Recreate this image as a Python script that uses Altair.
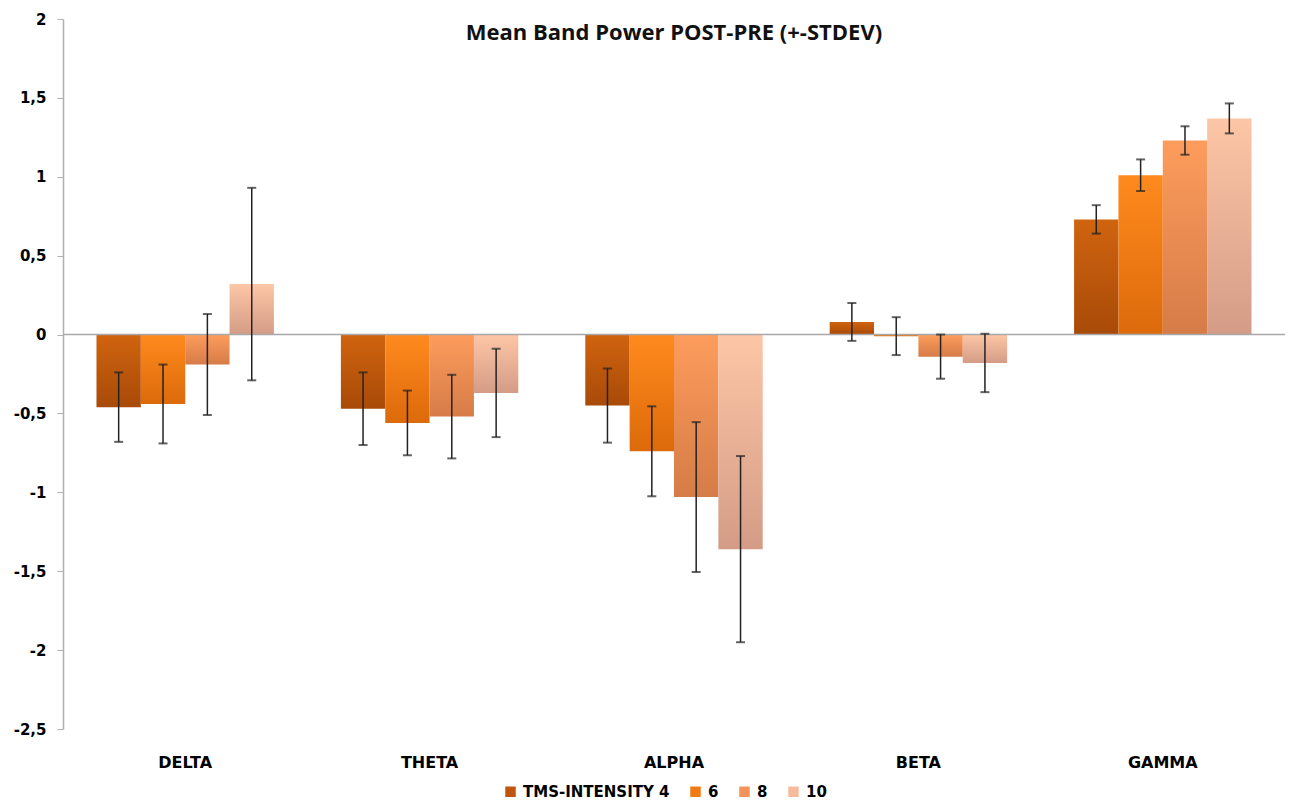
import altair as alt
import pandas as pd

bands = ["DELTA", "THETA", "ALPHA", "BETA", "GAMMA"]
series = ["TMS-INTENSITY 4", "6", "8", "10"]

# mean values per series (order of bands)
mean_4 = [-0.46, -0.47, -0.45, 0.08, 0.73]
mean_6 = [-0.44, -0.56, -0.74, -0.01, 1.01]
mean_8 = [-0.19, -0.52, -1.03, -0.14, 1.23]
mean_10 = [0.32, -0.37, -1.36, -0.18, 1.37]

sd_4 = [0.22, 0.23, 0.235, 0.12, 0.09]
sd_6 = [0.25, 0.205, 0.285, 0.12, 0.10]
sd_8 = [0.32, 0.265, 0.475, 0.14, 0.09]
sd_10 = [0.61, 0.28, 0.59, 0.185, 0.095]

y_ticks = [-2.5, -2, -1.5, -1, -0.5, 0, 0.5, 1, 1.5, 2]

legend_colors = ["#c0560e", "#f27a12", "#f2935a", "#f6bb9c"]
grad_top = ["#d0640f", "#ff8a1e", "#fd9c5c", "#fdc6a6"]
grad_bottom = ["#a84a08", "#dc6a0a", "#d67c48", "#d49c86"]

rows = []
for s, means, sds in zip(series, [mean_4, mean_6, mean_8, mean_10], [sd_4, sd_6, sd_8, sd_10]):
    for b, m, d in zip(bands, means, sds):
        rows.append({"band": b, "series": s, "value": m, "lo": m - d, "hi": m + d})
df = pd.DataFrame(rows)

x_enc = alt.X(
    "band:N",
    sort=bands,
    scale=alt.Scale(paddingInner=0.274, paddingOuter=0.137),
    axis=alt.Axis(
        title=None, domain=False, ticks=False, labelAngle=0, labelPadding=25,
        labelFont="DejaVu Sans", labelFontWeight="bold", labelFontSize=16, labelColor="#000000",
    ),
)
xo_enc = alt.XOffset("series:N", sort=series, scale=alt.Scale(domain=series, paddingInner=0, paddingOuter=0))
y_scale = alt.Scale(domain=[-2.5, 2], nice=False, zero=False)
y_enc = alt.Y(
    "value:Q",
    scale=y_scale,
    axis=alt.Axis(
        title=None, values=y_ticks, grid=False,
        domainColor="#b0b0b0", domainWidth=1.5, tickColor="#b0b0b0", tickSize=6,
        labelFont="DejaVu Sans", labelFontWeight="bold", labelFontSize=15, labelColor="#000000",
        labelPadding=11,
        labelExpr="replace(replace(format(datum.value, '~g'), '.', ','), '\u2212', '-')",
    ),
)

base = alt.Chart(df)

legend_layer = base.mark_bar(opacity=0).encode(
    x=x_enc,
    xOffset=xo_enc,
    y=y_enc,
    color=alt.Color(
        "series:N",
        sort=series,
        scale=alt.Scale(domain=series, range=legend_colors),
        legend=alt.Legend(
            title=None, orient="none", direction="horizontal", legendX=440, legendY=765,
            symbolType="square", symbolSize=110, symbolOpacity=1, symbolStrokeWidth=0,
            labelFont="DejaVu Sans", labelFontWeight="bold", labelFontSize=15, labelColor="#000000",
            columnPadding=18, labelOffset=5,
        ),
    ),
)

bar_layers = []
for s, top, bot in zip(series, grad_top, grad_bottom):
    grad = alt.Gradient(
        gradient="linear",
        stops=[alt.GradientStop(color=top, offset=0), alt.GradientStop(color=bot, offset=1)],
        x1=0, x2=0, y1=0, y2=1,
    )
    bar_layers.append(
        base.transform_filter(alt.datum.series == s).mark_bar(fill=grad).encode(
            x=x_enc, xOffset=xo_enc, y=y_enc
        )
    )

zero_rule = alt.Chart(pd.DataFrame({"z": [0]})).mark_rule(color="#a8a8a8", strokeWidth=1.5).encode(
    y=alt.Y("z:Q", scale=y_scale)
)

err_rule = base.mark_rule(color="#222222", strokeWidth=1.5).encode(
    x=x_enc, xOffset=xo_enc, y=alt.Y("lo:Q", scale=y_scale), y2="hi:Q"
)
cap_lo = base.mark_tick(color="#222222", thickness=2, size=9).encode(
    x=x_enc, xOffset=xo_enc, y=alt.Y("lo:Q", scale=y_scale)
)
cap_hi = base.mark_tick(color="#222222", thickness=2, size=9).encode(
    x=x_enc, xOffset=xo_enc, y=alt.Y("hi:Q", scale=y_scale)
)

chart = alt.layer(legend_layer, *bar_layers, zero_rule, err_rule, cap_lo, cap_hi).properties(
    width=1222,
    height=710,
    padding={"left": 55, "top": 11, "right": 1, "bottom": 76},
    autosize=alt.AutoSizeParams(type="none"),
    title=alt.TitleParams(
        "Mean Band Power POST-PRE (+-STDEV)",
        font="Open Sans", fontSize=22, fontWeight="bold", color="#111111", offset=-33, anchor="middle",
    ),
).configure_view(stroke=None)

chart.save("out.html", embed_options={"renderer": "svg", "actions": False})
